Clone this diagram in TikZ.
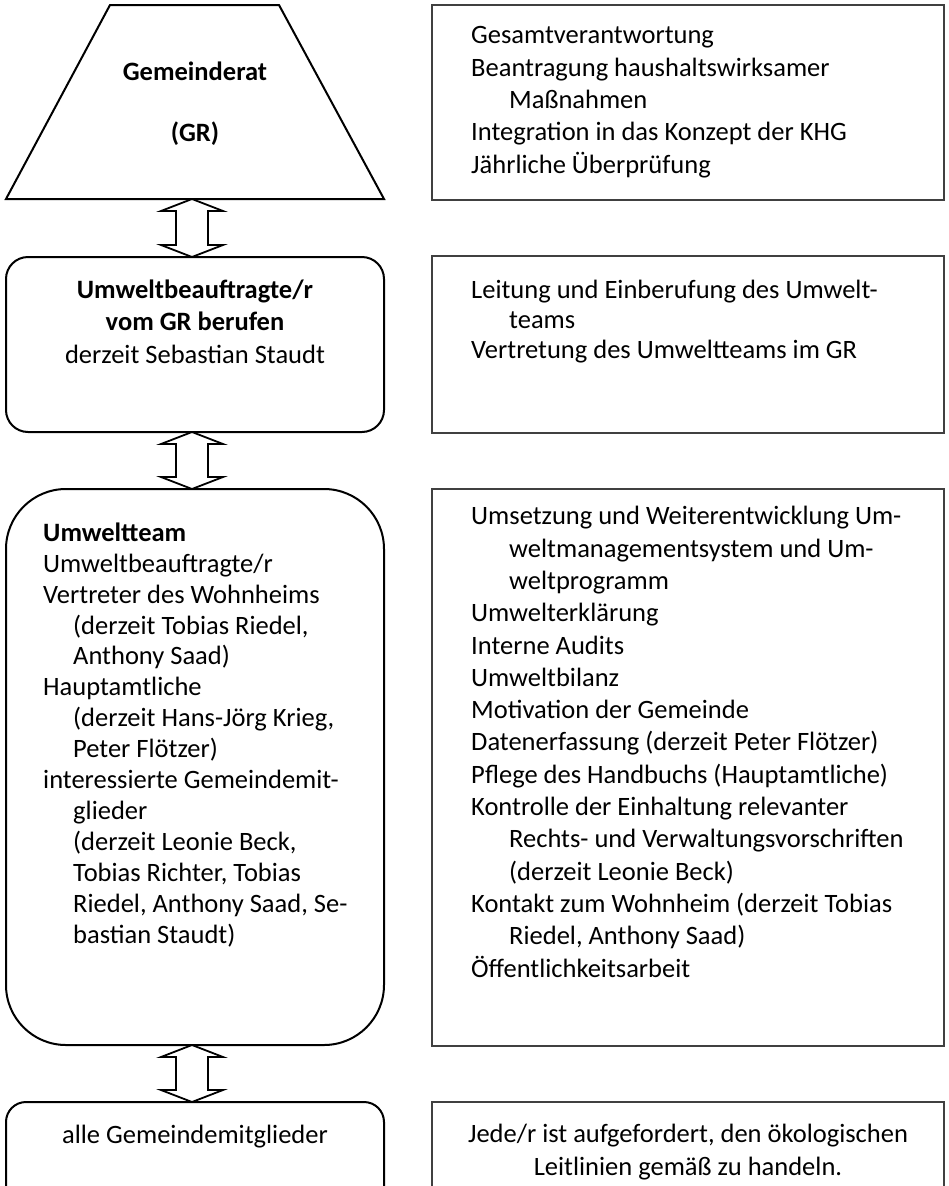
\documentclass[tikz,border=0pt]{standalone}
\usepackage{fontspec}
\setmainfont{Carlito}
\usetikzlibrary{calc,positioning}

\newcommand{\indr}{\hspace*{38pt}}
\newcommand{\indl}{\hspace*{30pt}}
% double block arrow between two stacked boxes
\newcommand{\dblarrow}[2]{%
  \draw[line width=1.8pt,fill=white] ([xshift=-3pt]#1.south) -- ++(31,12) -- ++(-15,0)
    -- ($([xshift=-3pt]#2.north)+(16,-12)$) -- ++(15,0) -- ([xshift=-3pt]#2.north)
    -- ++(-31,-12) -- ++(15,0) -- ($([xshift=-3pt]#1.south)+(-16,12)$) -- ++(-15,0) -- cycle;}

\begin{document}
\begin{tikzpicture}[x=1pt,y=-1pt,
    every node/.style={font=\fontsize{26.5}{32.3}\selectfont},
    lbox/.style={draw,line width=2pt,minimum width=378pt,inner sep=0pt,outer sep=0pt},
    rbox/.style={draw=black!75,line width=1.6pt,minimum width=512pt,inner sep=0pt,outer sep=0pt,anchor=north west},
    txt/.style={align=left,inner sep=0pt,anchor=base west},
    ctxt/.style={align=center,inner sep=0pt,anchor=base}]
  \useasboundingbox (0,0) rectangle (949,1186);
  \clip (0,0) rectangle (949,1186);

  % left column
  \node[minimum width=378pt, minimum height=194pt, inner sep=0pt, outer sep=0pt] (gr) at (195,102) {};
  \draw[line width=2pt] (gr.south west) -- ($(gr.north west)+(104,0)$) -- ($(gr.north east)+(-105,0)$)
    -- (gr.south east) -- cycle;
  \node[lbox, rounded corners=22pt, minimum height=175pt] (ub) at (195,344.5) {};
  \node[lbox, rounded corners=60pt, minimum height=556pt] (team) at (195,767) {};
  \node[lbox, rounded corners=20pt, minimum height=120pt, anchor=north] (alle) at (195,1102) {};

  % right column
  \node[rbox, minimum height=195pt] (r1) at (432,5) {};
  \node[rbox, minimum height=177pt] (r2) at (432,256) {};
  \node[rbox, minimum height=557pt] (r3) at (432,489) {};
  \node[rbox, minimum height=120pt] (r4) at (432,1102) {};

  \dblarrow{gr}{ub}
  \dblarrow{ub}{team}
  \dblarrow{team}{alle}

  % texts (base = last line)
  \node[ctxt, font=\fontsize{26.5}{32.3}\selectfont\bfseries] (grt) at ($(gr.north)+(0,136)$) {Gemeinderat\\[28.7pt](GR)};
  \node[ctxt] (ubt) at ($(ub.north)+(0,106)$) {\textbf{Umweltbeauftragte/r}\\\textbf{vom GR berufen}\\derzeit Sebastian Staudt};
  \node[txt, font=\fontsize{26.5}{30.9}\selectfont] (teamt) at ($(team.north west)+(37,454)$) {\textbf{Umweltteam}\\
    Umweltbeauftragte/r\\
    Vertreter des Wohnheims\\
    \indl(derzeit Tobias Riedel,\\
    \indl Anthony Saad)\\
    Hauptamtliche\\
    \indl(derzeit Hans-Jörg Krieg,\\
    \indl Peter Flötzer)\\
    interessierte Gemeindemit-\\
    \indl glieder\\
    \indl(derzeit Leonie Beck,\\
    \indl Tobias Richter, Tobias\\
    \indl Riedel, Anthony Saad, Se-\\
    \indl bastian Staudt)};
  \node[ctxt] (allet) at ($(alle.north)+(0,41)$) {alle Gemeindemitglieder};

  \node[txt] (r1t) at ($(r1.north west)+(39,168)$) {Gesamtverantwortung\\
    Beantragung haushaltswirksamer\\
    \indr Maßnahmen\\
    Integration in das Konzept der KHG\\
    Jährliche Überprüfung};
  \node[txt, font=\fontsize{26.5}{30}\selectfont] (r2t) at ($(r2.north west)+(39,102)$) {Leitung und Einberufung des Umwelt-\\
    \indr teams\\
    Vertretung des Umweltteams im GR};
  \node[txt] (r3t) at ($(r3.north west)+(39,488)$) {Umsetzung und Weiterentwicklung Um-\\
    \indr weltmanagementsystem und Um-\\
    \indr weltprogramm\\
    Umwelterklärung\\
    Interne Audits\\
    Umweltbilanz\\
    Motivation der Gemeinde\\
    Datenerfassung (derzeit Peter Flötzer)\\
    Pflege des Handbuchs (Hauptamtliche)\\
    Kontrolle der Einhaltung relevanter\\
    \indr Rechts- und Verwaltungsvorschriften\\
    \indr (derzeit Leonie Beck)\\
    Kontakt zum Wohnheim (derzeit Tobias\\
    \indr Riedel, Anthony Saad)\\
    Öffentlichkeitsarbeit};
  \node[ctxt] (r4t) at ($(r4.north)+(0,73)$) {Jede/r ist aufgefordert, den ökologischen\\Leitlinien gemäß zu handeln.};
\end{tikzpicture}
\end{document}
